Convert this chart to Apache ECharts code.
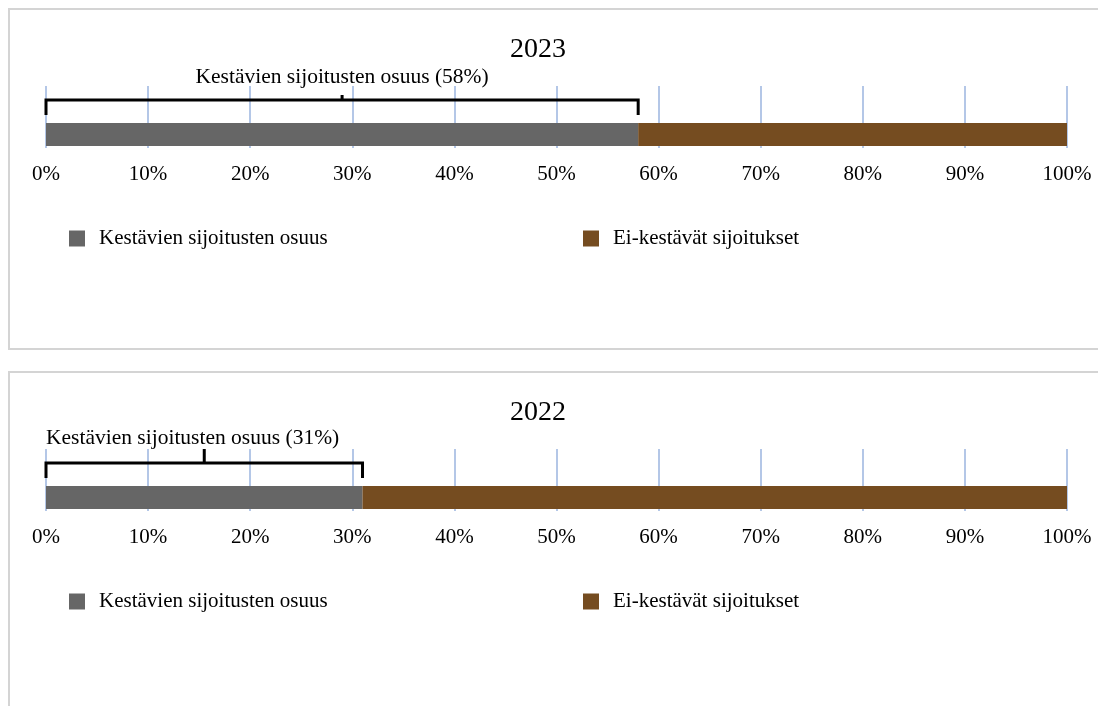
<!DOCTYPE html>
<html>
<head>
<meta charset="utf-8">
<script src="https://cdn.jsdelivr.net/npm/echarts@6/dist/echarts.min.js"></script>
<style>
html,body{margin:0;padding:0;background:#fff;}
#main{width:1098px;height:706px;}
</style>
</head>
<body>
<div id="main"></div>
<script>
// ---- data ----
const years = ['2023', '2022'];
const sustainableShare = [58, 31];
const nonSustainableShare = [42, 69];
const seriesNames = ['Kestävien sijoitusten osuus', 'Ei-kestävät sijoitukset'];
const bracketLabelBase = 'Kestävien sijoitusten osuus';
const axisMin = 0, axisMax = 100, axisStep = 10;

// ---- layout / style ----
const FONT = '"Liberation Serif", "Times New Roman", serif';
const colors = ['#666666', '#754C20'];
const panelTop = [9, 372];
const tickTop = [86, 77];     // centre tick start (relative to panel)
const labelY = [68, 66];      // label centre (relative to panel)
const labelAlign = ['center', 'left'];
const LEFT = 46, RIGHT = 1098 - 1067;

const chart = echarts.init(document.getElementById('main'));

const grids = [], xAxes = [], yAxes = [], series = [], titles = [], legends = [], graphics = [];

years.forEach((yr, p) => {
  const pt = panelTop[p];
  // panel border
  graphics.push({
    type: 'rect', silent: true, z: -10,
    shape: { x: 9, y: pt, width: 1200, height: 340 },
    style: { fill: 'none', stroke: '#d4d4d4', lineWidth: 2 }
  });
  titles.push({
    text: yr, left: 533, top: pt + 22, textAlign: 'center',
    textStyle: { fontFamily: FONT, fontSize: 28, fontWeight: 'normal', color: '#000' }
  });
  // grid A: gridlines, labels, bracket
  const gA = grids.length;
  grids.push({ left: LEFT, right: RIGHT, top: pt + 77, height: 62, containLabel: false });
  xAxes.push({
    type: 'value', gridIndex: gA, min: axisMin, max: axisMax, interval: axisStep,
    axisLine: { show: false }, axisTick: { show: false },
    splitLine: { show: true, lineStyle: { color: '#B4C7E7', width: 2 } },
    axisLabel: { formatter: '{value}%', margin: 16, fontFamily: FONT, fontSize: 21, color: '#000' }
  });
  yAxes.push({ type: 'category', gridIndex: gA, data: [yr], show: false });
  // grid B: bars
  const gB = grids.length;
  grids.push({ left: LEFT, right: RIGHT, top: pt + 114, height: 23, containLabel: false });
  xAxes.push({ type: 'value', gridIndex: gB, min: axisMin, max: axisMax, show: false, splitLine: { show: false } });
  yAxes.push({ type: 'category', gridIndex: gB, data: [yr], show: false });

  const vals = [sustainableShare[p], nonSustainableShare[p]];
  seriesNames.forEach((nm, i) => {
    series.push({
      type: 'bar', name: nm, xAxisIndex: gB, yAxisIndex: gB, stack: 'p' + p,
      barWidth: 23, data: [vals[i]], itemStyle: { color: colors[i] },
      emphasis: { disabled: true }, animation: false
    });
  });

  const tTop = tickTop[p], lY = labelY[p], al = labelAlign[p];
  series.push({
    type: 'custom', name: 'bracket' + yr, xAxisIndex: gA, yAxisIndex: gA,
    data: [[sustainableShare[p], 0]], clip: false, animation: false, silent: true,
    renderItem: function (params, api) {
      const share = api.value(0);
      const x0 = api.coord([axisMin, 0])[0];
      const x1 = api.coord([share, 0])[0];
      const xm = api.coord([share / 2, 0])[0];
      const hy = pt + 91, vy = pt + 106;
      const ls = { stroke: '#000', lineWidth: 3, fill: 'none' };
      return {
        type: 'group',
        children: [
          { type: 'polyline', shape: { points: [[x0, vy], [x0, hy], [x1, hy], [x1, vy]] }, style: ls },
          { type: 'line', shape: { x1: xm, y1: pt + tTop, x2: xm, y2: hy }, style: ls },
          { type: 'text', x: al === 'center' ? xm : x0, y: pt + lY,
            style: { text: bracketLabelBase + ' (' + share + '%)', fill: '#000',
                     font: '21.5px ' + FONT, align: al, verticalAlign: 'middle' } }
        ]
      };
    }
  });

  [69, 583].forEach((lx, i) => {
    legends.push({
      data: [seriesNames[i]], left: lx, top: pt + 219, padding: 0,
      icon: 'rect', itemWidth: 16, itemHeight: 16, selectedMode: false,
      textStyle: { fontFamily: FONT, fontSize: 21, color: '#000', padding: [0, 0, 0, 9] }
    });
  });
});

chart.setOption({
  animation: false,
  title: titles,
  grid: grids,
  xAxis: xAxes,
  yAxis: yAxes,
  legend: legends,
  series: series,
  graphic: graphics
});
</script>
</body>
</html>
